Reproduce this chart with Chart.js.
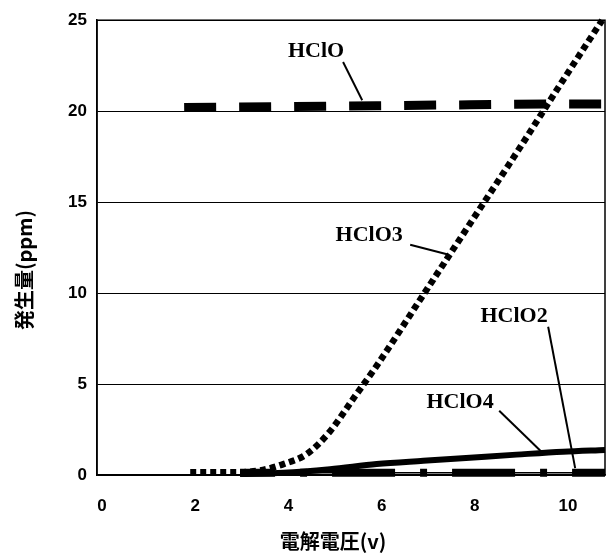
<!DOCTYPE html>
<html>
<head>
<meta charset="utf-8">
<title>電解電圧と発生量</title>
<style>body{margin:0;background:#fff}</style>
</head>
<body>
<canvas id="chart1" width="610" height="555"></canvas>
<script src="https://cdn.jsdelivr.net/npm/chart.js"></script>
<script>
// values
const xTicks = [0, 2, 4, 6, 8, 10];
const yTicks = [0, 5, 10, 15, 20, 25];

const hcloX = [1.87, 4, 6, 8, 10, 10.88];
const hcloY = [20.2, 20.25, 20.3, 20.35, 20.4, 20.4];

const hclo3X = [2, 2.5, 3, 3.5, 4, 4.5, 5, 5.5, 6, 7, 8, 9, 10, 10.84];
const hclo3Y = [0.15, 0.15, 0.15, 0.25, 0.6, 1.15, 2.4, 4.2, 6.0, 9.9, 13.8, 17.7, 21.7, 25];

const hclo4X = [3.07, 4, 5, 6, 7, 8, 9, 10, 10.9];
const hclo4Y = [0.05, 0.12, 0.32, 0.6, 0.78, 0.95, 1.12, 1.28, 1.38];

const hclo2X = [3.07, 5, 7, 9, 10.9];
const hclo2Y = [0.13, 0.13, 0.13, 0.13, 0.13];

const pts = (xs, ys) => xs.map((x, i) => ({x: x, y: ys[i]}));

// series labels with leader lines (data coordinates)
const notes = [
  {text: 'HClO',  at: [4.7, 23.3],  from: [5.28, 22.7], to: [5.69, 20.6]},
  {text: 'HClO3', at: [5.84, 13.15], from: [6.72, 12.66], to: [7.53, 12.12]},
  {text: 'HClO2', at: [8.95, 8.7],  from: [9.68, 8.15], to: [10.26, 0.38]},
  {text: 'HClO4', at: [7.79, 4.0],  from: [8.63, 3.53], to: [9.57, 1.2]}
];

const frame = {
  id: 'frame',
  afterDatasetsDraw(chart) {
    const {ctx, chartArea: a, scales: {x, y}} = chart;
    ctx.save();
    ctx.strokeStyle = '#000';
    ctx.lineWidth = 1.5;
    ctx.strokeRect(a.left, a.top, a.right - a.left, a.bottom - a.top);

    ctx.lineWidth = 2;
    ctx.font = 'bold 22px "Liberation Serif"';
    ctx.fillStyle = '#000';
    ctx.textAlign = 'center';
    ctx.textBaseline = 'middle';
    notes.forEach(n => {
      ctx.fillText(n.text, x.getPixelForValue(n.at[0]), y.getPixelForValue(n.at[1]));
      ctx.beginPath();
      ctx.moveTo(x.getPixelForValue(n.from[0]), y.getPixelForValue(n.from[1]));
      ctx.lineTo(x.getPixelForValue(n.to[0]), y.getPixelForValue(n.to[1]));
      ctx.stroke();
    });

    // axis titles
    ctx.font = 'bold 20px "Noto Sans CJK JP"';
    ctx.fillText('電解電圧(v)', 333, 541);
    ctx.translate(24, 270);
    ctx.rotate(-Math.PI / 2);
    ctx.fillText('発生量(ppm)', 0, 0);
    ctx.restore();
  }
};

const tickFont = {family: '"Liberation Sans"', size: 17, weight: 'bold'};

new Chart(document.getElementById('chart1'), {
  type: 'line',
  data: {
    datasets: [
      {label: 'HClO', data: pts(hcloX, hcloY), borderColor: '#000', borderWidth: 9,
       borderDash: [32, 23], borderCapStyle: 'butt'},
      {label: 'HClO3', data: pts(hclo3X, hclo3Y), borderColor: '#000', borderWidth: 6.5,
       borderDash: [6, 4], borderCapStyle: 'butt', cubicInterpolationMode: 'monotone'},
      {label: 'HClO2 line', data: pts(hclo2X, hclo2Y), borderColor: '#000', borderWidth: 1.5},
      {label: 'HClO2', data: pts(hclo2X, hclo2Y), borderColor: '#000', borderWidth: 8,
       borderDash: [63, 25, 7, 25], borderDashOffset: 28, borderCapStyle: 'butt'},
      {label: 'HClO4', data: pts(hclo4X, hclo4Y), borderColor: '#000', borderWidth: 6,
       cubicInterpolationMode: 'monotone'}
    ]
  },
  options: {
    responsive: false,
    animation: false,
    devicePixelRatio: 1,
    layout: {padding: {top: 15, right: 5, left: 0, bottom: 0}},
    elements: {point: {radius: 0}},
    datasets: {line: {clip: false}},
    plugins: {legend: {display: false}, tooltip: {enabled: false}},
    scales: {
      x: {
        type: 'linear', min: 0, max: 10.9,
        afterBuildTicks: s => { s.ticks = xTicks.map(v => ({value: v})); },
        afterFit: s => { s.height = 80; },
        grid: {display: false},
        border: {display: true, color: '#000', width: 1.5},
        ticks: {color: '#000', font: tickFont, padding: 13, labelOffset: 5, autoSkip: false, maxRotation: 0}
      },
      y: {
        min: 0, max: 25,
        afterBuildTicks: s => { s.ticks = yTicks.map(v => ({value: v})); },
        afterFit: s => { s.width = 97; },
        grid: {color: '#000', lineWidth: 1, drawTicks: false},
        border: {display: true, color: '#000', width: 1.5},
        ticks: {color: '#000', font: tickFont, padding: 10}
      }
    }
  },
  plugins: [frame]
});
</script>
</body>
</html>
